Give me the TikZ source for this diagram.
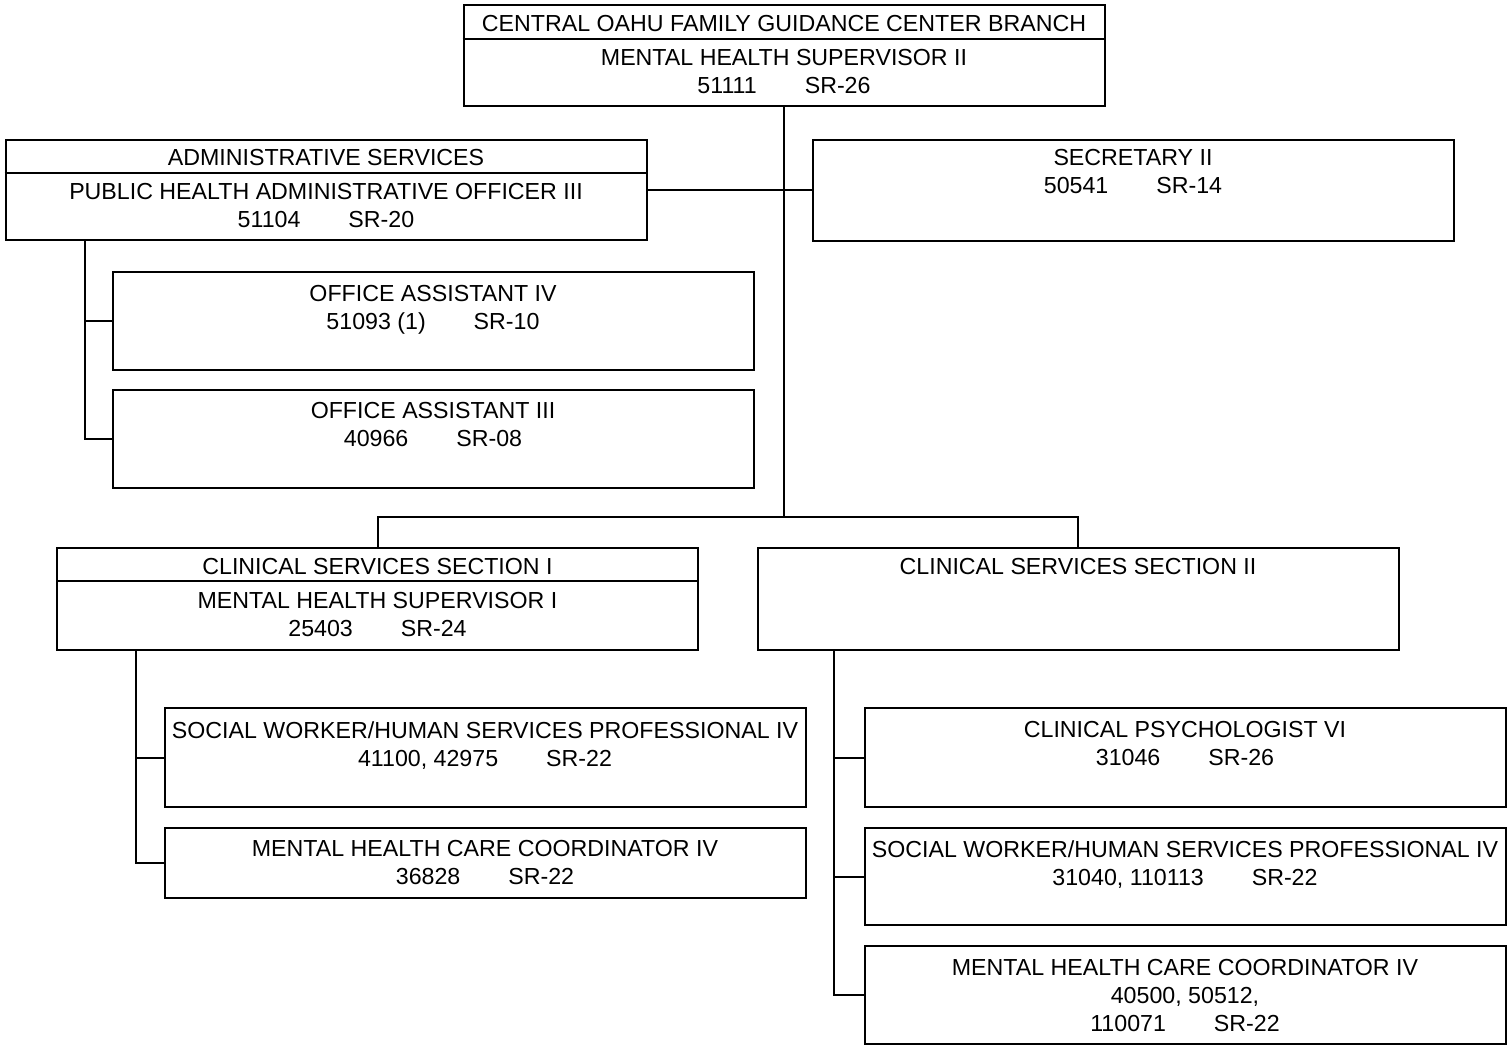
\documentclass[tikz,border=0pt]{standalone}
\usepackage{fontspec}
\setmainfont{Liberation Sans}
\tikzset{
  unit/.style={draw, line width=1pt, minimum width=320.5pt, inner sep=0pt},
  txt/.style={anchor=north, align=center, inner sep=0pt,
    font=\fontsize{11.6}{14}\selectfont},
  link/.style={line width=1pt},
}
\newcommand\gap{\hspace{24pt}}

\begin{document}
\begin{tikzpicture}[x=0.5pt, y=-0.5pt]
\useasboundingbox (0,0) rectangle (1508,1049);

%% branch head
\node[unit, minimum height=50.5pt] (branch) at (784,55.5) {};
\draw[link] ([yshift=-17.5pt]branch.north west) -- ([yshift=-17.5pt]branch.north east);
\node[txt] (branch-t) at (784,15) {CENTRAL OAHU FAMILY GUIDANCE CENTER BRANCH};
\node[txt] (branch-p) at (784,49) {MENTAL HEALTH SUPERVISOR II\\51111\gap SR-26};

%% administrative services and secretary
\node[unit, minimum height=50pt] (admin) at (326,190) {};
\draw[link] ([yshift=-17pt]admin.north west) -- ([yshift=-17pt]admin.north east);
\node[txt] (admin-t) at (326,149) {ADMINISTRATIVE SERVICES};
\node[txt] (admin-p) at (326,183) {PUBLIC HEALTH ADMINISTRATIVE OFFICER III\\51104\gap SR-20};

\node[unit, minimum height=50.5pt] (secr) at (1133,190) {};
\node[txt] (secr-p) at (1133,149) {SECRETARY II\\50541\gap SR-14};

\node[unit, minimum height=49pt] (oa4) at (433,321) {};
\node[txt] (oa4-p) at (433,285) {OFFICE ASSISTANT IV\\51093 (1)\gap SR-10};

\node[unit, minimum height=49pt] (oa3) at (433,439) {};
\node[txt] (oa3-p) at (433,402) {OFFICE ASSISTANT III\\40966\gap SR-08};

%% clinical sections
\node[unit, minimum height=51pt] (csec1) at (377.5,599) {};
\draw[link] ([yshift=-17pt]csec1.north west) -- ([yshift=-17pt]csec1.north east);
\node[txt] (csec1-t) at (377.5,558) {CLINICAL SERVICES SECTION I};
\node[txt] (csec1-p) at (377.5,592) {MENTAL HEALTH SUPERVISOR I\\25403\gap SR-24};

\node[unit, minimum height=51pt] (csec2) at (1078,599) {};
\node[txt] (csec2-t) at (1078,558) {CLINICAL SERVICES SECTION II};

%% section I staff
\node[unit, minimum height=49.5pt] (swl) at (485,757.5) {};
\node[txt] (swl-p) at (485,721) {SOCIAL WORKER/HUMAN SERVICES PROFESSIONAL IV\\41100, 42975\gap SR-22};

\node[unit, minimum height=35pt] (mhccl) at (485,863) {};
\node[txt] (mhccl-p) at (485,840) {MENTAL HEALTH CARE COORDINATOR IV\\36828\gap SR-22};

%% section II staff
\node[unit, minimum height=49.5pt] (cpsy) at (1185,757.5) {};
\node[txt] (cpsy-p) at (1185,721) {CLINICAL PSYCHOLOGIST VI\\31046\gap SR-26};

\node[unit, minimum height=48.5pt] (swr) at (1185,876.5) {};
\node[txt] (swr-p) at (1185,840) {SOCIAL WORKER/HUMAN SERVICES PROFESSIONAL IV\\31040, 110113\gap SR-22};

\node[unit, minimum height=49pt] (mhccr) at (1185,995) {};
\node[txt] (mhccr-p) at (1185,959) {MENTAL HEALTH CARE COORDINATOR IV\\40500, 50512,\\110071\gap SR-22};

%% lines
\coordinate (split) at (784,517);
\draw[link] (branch.south) -- (split);
\draw[link] (admin.east) -- (secr.west);
\draw[link] (csec1.north) |- (split) -| (csec2.north);

\draw[link] ([xshift=40pt]admin.south west) |- (oa4.west);
\draw[link] ([xshift=40pt]admin.south west) |- (oa3.west);

\draw[link] ([xshift=40pt]csec1.south west) |- (swl.west);
\draw[link] ([xshift=40pt]csec1.south west) |- (mhccl.west);

\draw[link] ([xshift=38.5pt]csec2.south west) |- (cpsy.west);
\draw[link] ([xshift=38.5pt]csec2.south west) |- (swr.west);
\draw[link] ([xshift=38.5pt]csec2.south west) |- (mhccr.west);

\end{tikzpicture}
\end{document}
